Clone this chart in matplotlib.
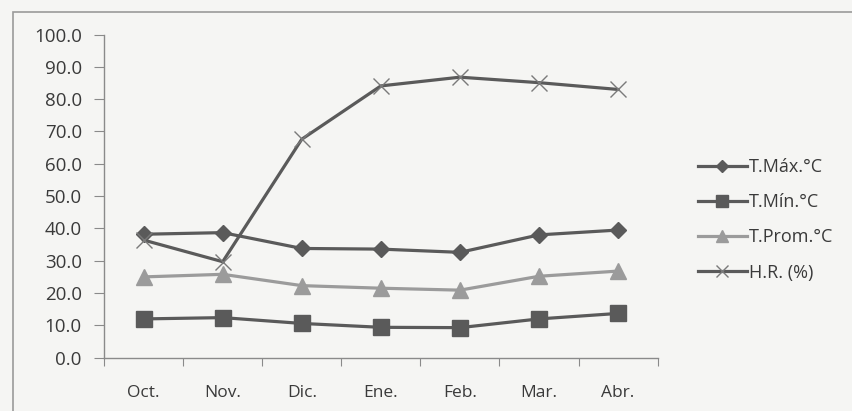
import matplotlib
matplotlib.use('Agg')
import matplotlib.pyplot as plt
from matplotlib.patches import Rectangle

# Monthly climate readings
months = ['Oct.', 'Nov.', 'Dic.', 'Ene.', 'Feb.', 'Mar.', 'Abr.']
t_max = [38.2, 38.7, 33.8, 33.6, 32.6, 38.0, 39.5]
t_min = [12.0, 12.4, 10.6, 9.4, 9.3, 12.0, 13.7]
t_prom = [25.0, 25.8, 22.3, 21.5, 20.9, 25.2, 26.8]
hum_rel = [36.4, 29.7, 67.6, 84.1, 86.8, 85.1, 83.0]
series_names = ['T.Máx.°C', 'T.Mín.°C', 'T.Prom.°C', 'H.R. (%)']
yticks = [0, 10, 20, 30, 40, 50, 60, 70, 80, 90, 100]

plt.rcParams['font.family'] = ['Open Sans', 'DejaVu Sans']

fig = plt.figure(figsize=(8.53, 4.11), dpi=100)
fig.patch.set_facecolor('#f5f5f3')
ax = fig.add_axes([0.122, 0.1297, 0.649, 0.7863])
ax.set_facecolor('none')

# chart frame, running off the right and bottom edges
fig.patches.append(Rectangle((13 / 853, -0.1), 1.2, 1 - 12 / 411 + 0.1,
                             transform=fig.transFigure, fill=False,
                             edgecolor='#9a9a9a', lw=1.2))

dark = '#5a5a5a'
light = '#9b9b9b'
x = range(len(months))
ax.plot(x, t_max, color=dark, lw=2.3, marker='D', ms=8, label=series_names[0])
ax.plot(x, t_min, color=dark, lw=2.3, marker='s', ms=12, label=series_names[1])
ax.plot(x, t_prom, color=light, lw=2.3, marker='^', ms=11, label=series_names[2])
ax.plot(x, hum_rel, color=dark, lw=2.3, marker='x', ms=11, mew=1.0,
        mec='#7a7a7a', label=series_names[3])

ax.set_xlim(-0.5, len(months) - 0.5)
ax.set_ylim(0, 100)
ax.set_yticks(yticks)
ax.set_yticklabels(['%.1f' % v for v in yticks])
ax.set_xticks([i - 0.5 for i in range(len(months) + 1)], minor=False)
ax.set_xticklabels([])
ax.set_xticks(list(x), minor=True)
ax.set_xticklabels(months, minor=True)
ax.tick_params(axis='x', which='major', length=6, color='#8a8a8a', direction='out')
ax.tick_params(axis='x', which='minor', length=0, pad=20, labelsize=12.5, labelcolor='#3a3a3a')
ax.tick_params(axis='y', length=7, color='#8a8a8a', labelsize=13.5,
               labelcolor='#3a3a3a', pad=9)

for side in ('top', 'right'):
    ax.spines[side].set_visible(False)
for side in ('left', 'bottom'):
    ax.spines[side].set_color('#8a8a8a')
    ax.spines[side].set_linewidth(1.0)

leg = ax.legend(loc='upper left', bbox_to_anchor=(1.06, 0.64), frameon=False,
                fontsize=13, handlelength=2.7, handletextpad=0.1,
                labelspacing=0.95, markerscale=0.75, borderaxespad=0)
for txt in leg.get_texts():
    txt.set_color('#3a3a3a')

fig.savefig('out.png', dpi=100, facecolor=fig.get_facecolor())
